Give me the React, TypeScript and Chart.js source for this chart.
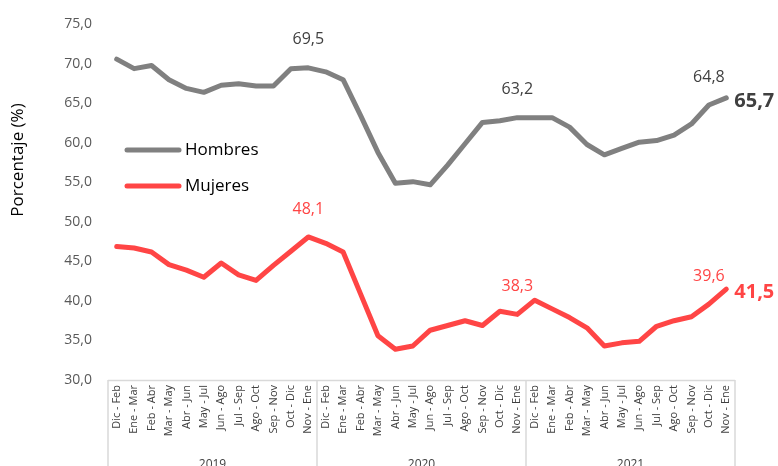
import React, { useEffect, useRef } from "react";
import { Chart, registerables } from "chart.js";

Chart.register(...registerables);

const periods = ["Dic - Feb", "Ene - Mar", "Feb - Abr", "Mar - May", "Abr - Jun", "May - Jul", "Jun - Ago", "Jul - Sep", "Ago - Oct", "Sep - Nov", "Oct - Dic", "Nov - Ene"];
const years = ["2019", "2020", "2021"];
const categories = years.flatMap(() => periods);

const hombres = [70.6, 69.4, 69.8, 68.0, 66.9, 66.4, 67.3, 67.5, 67.2, 67.2, 69.4, 69.5,
  69.0, 68.0, 63.5, 58.8, 54.9, 55.1, 54.7, 57.2, 59.9, 62.6, 62.8, 63.2,
  63.2, 63.2, 62.0, 59.8, 58.5, 59.3, 60.1, 60.3, 61.0, 62.4, 64.8, 65.7];
const mujeres = [46.9, 46.7, 46.2, 44.6, 43.9, 43.0, 44.8, 43.3, 42.6, 44.5, 46.3, 48.1,
  47.3, 46.2, 40.9, 35.6, 33.9, 34.3, 36.3, 36.9, 37.5, 36.9, 38.7, 38.3,
  40.1, 39.0, 37.9, 36.6, 34.3, 34.7, 34.9, 36.8, 37.5, 38.0, 39.6, 41.5];

const labeledIdx = [11, 23, 34];
const yTicksMin = 30;
const yTicksMax = 75;
const yStep = 5;

const GREY = "#808080";
const RED = "#ff4545";
const FONT = "'Open Sans', 'Noto Sans', sans-serif";

const fmt = (v: number) => v.toFixed(1).replace(".", ",");

const overlayPlugin = {
  id: "overlay",
  afterDraw(chart: any) {
    const ctx = chart.ctx;
    const xs = chart.scales.x;
    const ys = chart.scales.y;
    const area = chart.chartArea;
    ctx.save();

    // Axis frame lines
    ctx.strokeStyle = "#d9d9d9";
    ctx.lineWidth = 1.5;
    ctx.beginPath();
    ctx.moveTo(area.left, area.bottom + 0.5);
    ctx.lineTo(area.right, area.bottom + 0.5);
    const n = categories.length;
    const step = (area.right - area.left) / n;
    for (let g = 0; g <= years.length; g++) {
      const x = area.left + g * periods.length * step;
      ctx.moveTo(x, area.bottom);
      ctx.lineTo(x, chart.height);
    }
    ctx.stroke();

    // Year labels
    ctx.fillStyle = "#404040";
    ctx.font = `12px ${FONT}`;
    ctx.textAlign = "center";
    ctx.textBaseline = "top";
    years.forEach((yr, g) => {
      const x = area.left + (g + 0.5) * periods.length * step;
      ctx.fillText(yr, x, area.bottom + 79);
    });

    // Y title
    ctx.save();
    ctx.translate(18, 160);
    ctx.rotate(-Math.PI / 2);
    ctx.fillStyle = "#000";
    ctx.font = `17px ${FONT}`;
    ctx.textAlign = "center";
    ctx.textBaseline = "middle";
    ctx.fillText("Porcentaje (%)", 0, 0);
    ctx.restore();

    // Legend
    const legendItems = [
      { label: "Hombres", color: GREY, y: 150 },
      { label: "Mujeres", color: RED, y: 186 },
    ];
    legendItems.forEach((it) => {
      ctx.strokeStyle = it.color;
      ctx.lineWidth = 5;
      ctx.lineCap = "round";
      ctx.beginPath();
      ctx.moveTo(127, it.y);
      ctx.lineTo(179, it.y);
      ctx.stroke();
      ctx.fillStyle = "#000";
      ctx.font = `17px ${FONT}`;
      ctx.textAlign = "left";
      ctx.textBaseline = "middle";
      ctx.fillText(it.label, 185, it.y);
    });

    // Data labels
    const series = [
      { data: hombres, color: "#404040", lastColor: "#404040" },
      { data: mujeres, color: RED, lastColor: RED },
    ];
    series.forEach((s) => {
      ctx.fillStyle = s.color;
      ctx.font = `16px ${FONT}`;
      ctx.textAlign = "center";
      ctx.textBaseline = "middle";
      labeledIdx.forEach((i) => {
        const x = xs.getPixelForValue(i);
        const y = ys.getPixelForValue(s.data[i]);
        ctx.fillText(fmt(s.data[i]), x, y - 28);
      });
      const li = s.data.length - 1;
      const lx = xs.getPixelForValue(li);
      const ly = ys.getPixelForValue(s.data[li]);
      ctx.fillStyle = s.lastColor;
      ctx.font = `bold 20px ${FONT}`;
      ctx.textAlign = "left";
      ctx.fillText(fmt(s.data[li]), lx + 8, ly + 3);
    });

    ctx.restore();
  },
};

export default function App() {
  const ref = useRef<HTMLCanvasElement>(null);
  useEffect(() => {
    if (!ref.current) return;
    const chart = new Chart(ref.current, {
      type: "line",
      data: {
        labels: categories,
        datasets: [
          {
            label: "Hombres",
            data: hombres,
            borderColor: GREY,
            backgroundColor: GREY,
            borderWidth: 5,
            pointRadius: 0,
            tension: 0,
            borderCapStyle: "round",
            borderJoinStyle: "round",
          },
          {
            label: "Mujeres",
            data: mujeres,
            borderColor: RED,
            backgroundColor: RED,
            borderWidth: 5,
            pointRadius: 0,
            tension: 0,
            borderCapStyle: "round",
            borderJoinStyle: "round",
          },
        ],
      },
      options: {
        animation: false,
        responsive: false,
        maintainAspectRatio: false,
        layout: { padding: { left: 0, right: 43, top: 24, bottom: 0 } },
        plugins: {
          legend: { display: false },
          tooltip: { enabled: false },
        },
        scales: {
          x: {
            type: "category",
            offset: true,
            grid: { display: false, drawTicks: false },
            border: { display: false },
            ticks: {
              autoSkip: false,
              maxRotation: 90,
              minRotation: 90,
              padding: 5,
              color: "#404040",
              font: { family: FONT, size: 11 },
            },
            afterFit: (scale: any) => {
              scale.height = 86;
            },
          },
          y: {
            min: yTicksMin,
            max: yTicksMax,
            grid: { display: false, drawTicks: false },
            border: { display: false },
            ticks: {
              stepSize: yStep,
              padding: 16,
              color: "#595959",
              font: { family: FONT, size: 14 },
              callback: (v: any) => fmt(Number(v)),
            },
            afterFit: (scale: any) => {
              scale.width = 108;
            },
          },
        },
      },
      plugins: [overlayPlugin],
    });
    return () => chart.destroy();
  }, []);
  return (
    <div style={{ position: "fixed", left: 0, top: 0, width: 778, height: 466, background: "#fff" }}>
      <canvas ref={ref} width={778} height={466} style={{ width: 778, height: 466 }} />
    </div>
  );
}
